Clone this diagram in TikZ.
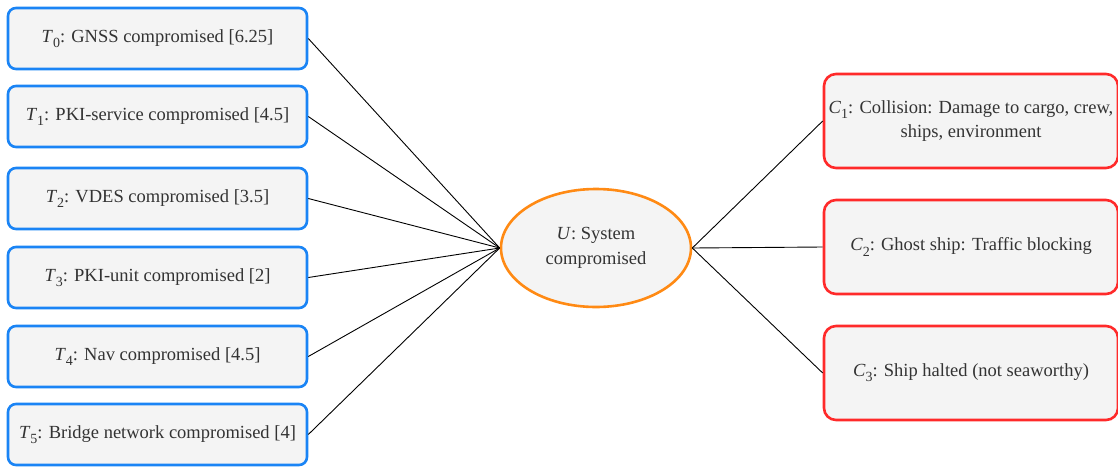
\documentclass[tikz,border=0pt]{standalone}
\usepackage{fontspec}
\setmainfont{Liberation Serif}
\newfontfamily\labelfont{Liberation Serif}
\usetikzlibrary{shapes.geometric}
\definecolor{boxfill}{HTML}{F4F4F4}
\definecolor{txtgray}{HTML}{333333}
\definecolor{threatblue}{HTML}{1A84F5}
\definecolor{consred}{HTML}{FF2A2A}
\definecolor{unwantedorange}{HTML}{FF8A14}
\newcommand{\sym}[2]{\textit{#1}\raisebox{-0.28em}{\fontsize{14}{14}\selectfont #2}}
\begin{document}
\begin{tikzpicture}[x=1pt,y=-1pt,
  every node/.style={font=\labelfont\fontsize{18.5}{24.5}\selectfont, text=txtgray},
  threat/.style={draw=threatblue, fill=boxfill, line width=2.6pt, rounded corners=8pt,
    minimum width=299pt, minimum height=61pt, anchor=center, inner sep=0pt},
  cons/.style={draw=consred, fill=boxfill, line width=2.6pt, rounded corners=12pt,
    minimum width=294pt, minimum height=94pt, anchor=center, inner sep=0pt, align=center},
  unwanted/.style={ellipse, draw=unwantedorange, fill=boxfill, line width=2.6pt,
    minimum width=190pt, minimum height=118pt, inner sep=0pt, align=center},
  link/.style={draw=black, line width=0.9pt}]
\useasboundingbox (0,0) rectangle (1118,469);

\node[threat] (t0) at (157.5,38.5)  {\sym{T}{0}: GNSS compromised [6.25]};
\node[threat] (t1) at (157.5,116.5) {\sym{T}{1}: PKI-service compromised [4.5]};
\node[threat] (t2) at (157.5,198.5) {\sym{T}{2}: VDES compromised [3.5]};
\node[threat] (t3) at (157.5,277.5) {\sym{T}{3}: PKI-unit compromised [2]};
\node[threat] (t4) at (157.5,356.5) {\sym{T}{4}: Nav compromised [4.5]};
\node[threat] (t5) at (157.5,434.5) {\sym{T}{5}: Bridge network compromised [4]};

\node[unwanted] (u) at (596,248) {\textit{U}: System\\compromised};

\node[cons] (c1) at (971,121) {\sym{C}{1}: Collision: Damage to cargo, crew,\\ships, environment};
\node[cons] (c2) at (971,247) {\sym{C}{2}: Ghost ship: Traffic blocking};
\node[cons] (c3) at (971,373) {\sym{C}{3}: Ship halted (not seaworthy)};

\foreach \t in {t0,t1,t2,t3,t4,t5}
  \draw[link] (\t.east) -- (u.west);
\foreach \c in {c1,c2,c3}
  \draw[link] (u.east) -- (\c.west);
\end{tikzpicture}
\end{document}
